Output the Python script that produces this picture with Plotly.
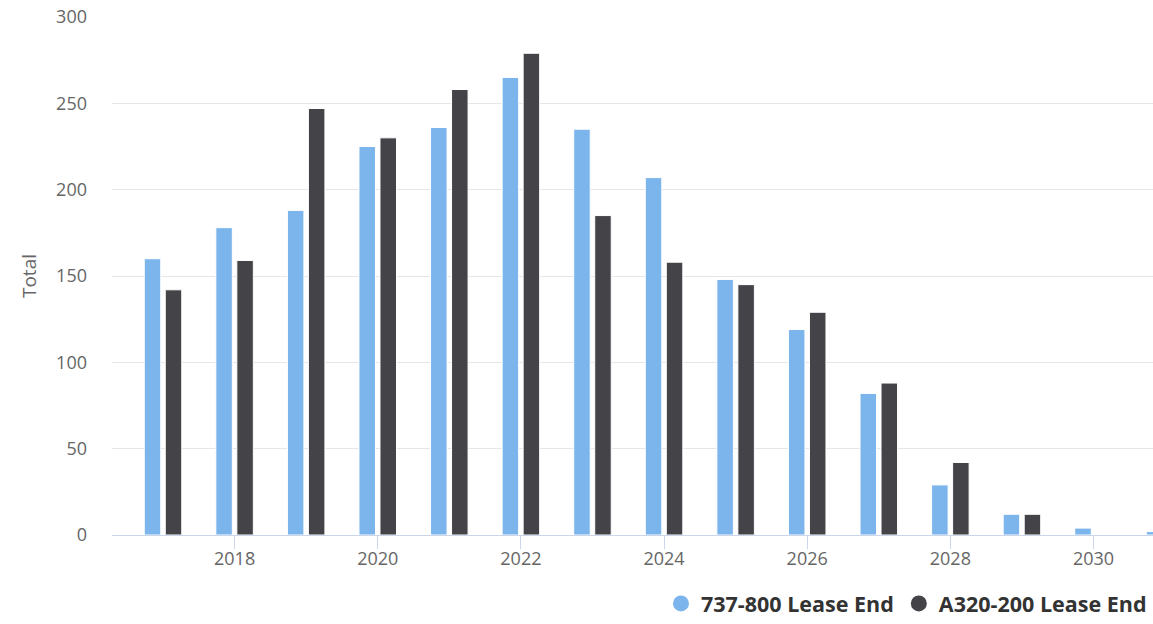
import plotly.graph_objects as go

years = [2017, 2018, 2019, 2020, 2021, 2022, 2023, 2024, 2025, 2026, 2027, 2028, 2029, 2030, 2031]
lease_737 = [160, 178, 188, 225, 236, 265, 235, 207, 148, 119, 82, 29, 12, 4, 2]
lease_a320 = [142, 159, 247, 230, 258, 279, 185, 158, 145, 129, 88, 42, 12, 0, 0]
series_names = ["737-800 Lease End", "A320-200 Lease End"]
colors = ["#7cb5ec", "#434348"]
x_ticks = [2018, 2020, 2022, 2024, 2026, 2028, 2030]
y_ticks = [0, 50, 100, 150, 200, 250, 300]

FONT = "Open Sans, DejaVu Sans, sans-serif"

fig = go.Figure()
for name, vals, col in zip(series_names, [lease_737, lease_a320], colors):
    fig.add_trace(go.Bar(
        x=years, y=vals, name=name, showlegend=False,
        marker=dict(color=col, line=dict(color="#ffffff", width=1)),
    ))
for name, col in zip(series_names, colors):
    fig.add_trace(go.Scatter(
        x=[None], y=[None], mode="markers", name=name,
        marker=dict(symbol="circle", size=16, color=col),
    ))

fig.update_layout(
    width=1153, height=624,
    margin=dict(l=112, r=0, t=17, b=89, autoexpand=False),
    paper_bgcolor="white", plot_bgcolor="white",
    barmode="group", bargap=0.413, bargroupgap=0.214,
    font=dict(family=FONT, color="#666666", size=18),
    showlegend=True,
    legend=dict(
        orientation="h", x=0.999, xanchor="right", y=-0.1718, yanchor="bottom",
        font=dict(family=FONT, size=21.5, color="#333333", weight="bold"),
        bgcolor="rgba(0,0,0,0)", itemclick=False,
    ),
    xaxis=dict(
        range=[2016.2875, 2030.831],
        tickmode="array", tickvals=x_ticks,
        ticks="outside", ticklen=13, tickcolor="#ccd6eb", tickwidth=1,
        ticklabelstandoff=-6,
        showline=True, linecolor="#ccd6eb", linewidth=1,
        showgrid=False, zeroline=False,
        tickfont=dict(size=18, color="#666666"),
    ),
    yaxis=dict(
        range=[0, 300], tickmode="array", tickvals=y_ticks,
        showgrid=True, gridcolor="#e6e6e6", gridwidth=1,
        zeroline=False, showline=False, ticks="",
        ticklabelstandoff=24,
        tickfont=dict(size=18, color="#666666"),
        title=dict(text="Total", font=dict(size=19, color="#666666"), standoff=14),
    ),
)

fig.write_html("out.html")
